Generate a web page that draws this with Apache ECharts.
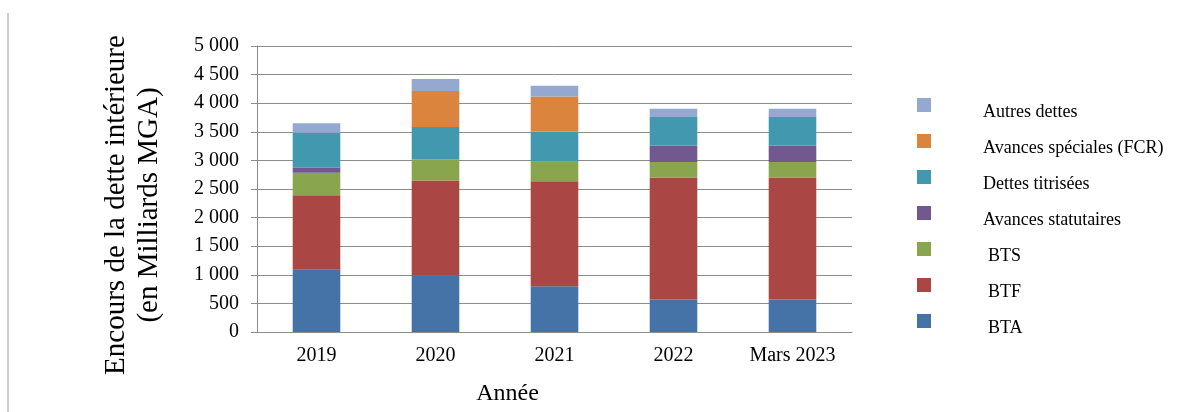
<!DOCTYPE html>
<html lang="fr">
<head>
<meta charset="UTF-8">
<title>Encours de la dette intérieure</title>
<script src="https://cdn.jsdelivr.net/npm/echarts@6/dist/echarts.min.js"></script>
<style>
  html, body { margin: 0; padding: 0; background: #fff; }
  #main { width: 1195px; height: 412px; }
</style>
</head>
<body>
<div id="main"></div>
<script>
// données (milliards MGA)
var annees = ['2019', '2020', '2021', '2022', 'Mars 2023'];
var bta = [1090, 990, 800, 570, 570];
var btf = [1300, 1660, 1835, 2130, 2130];
var bts = [395, 370, 340, 270, 270];
var avancesStat = [85, 0, 0, 290, 290];
var dettesTitr = [615, 565, 530, 500, 500];
var avancesFcr = [0, 630, 610, 0, 0];
var autres = [165, 210, 190, 145, 145];

var police = 'Liberation Serif';
var gris = '#8c8c8c';

var myChart = echarts.init(document.getElementById('main'));

function serie(nom, valeurs, couleur) {
    return {
        name: nom,
        type: 'bar',
        stack: 'dette',
        barWidth: '40%',
        data: valeurs,
        itemStyle: { color: couleur }
    };
}

var option = {
    animation: false,
    textStyle: { fontFamily: police },
    grid: { left: 257, top: 46, width: 595, height: 286 },
    legend: {
        orient: 'vertical',
        left: 912,
        top: 93,
        icon: 'rect',
        itemWidth: 14,
        itemHeight: 14,
        itemGap: 13,
        data: ['Autres dettes', 'Avances spéciales (FCR)', 'Dettes titrisées',
               'Avances statutaires', 'BTS', 'BTF', 'BTA'],
        formatter: function (n) {
            var decale = (n.length <= 3) ? 'b' : 'a';
            return '{' + decale + '|' + n + '}';
        },
        textStyle: {
            fontFamily: police,
            fontSize: 18,
            color: '#000',
            rich: {
                a: { fontFamily: police, fontSize: 18, color: '#000', padding: [14, 0, 0, 47] },
                b: { fontFamily: police, fontSize: 18, color: '#000', padding: [14, 0, 0, 52] }
            }
        }
    },
    xAxis: {
        type: 'category',
        data: annees,
        name: 'Année',
        nameLocation: 'middle',
        nameGap: 50,
        nameTextStyle: {
            fontFamily: police, fontSize: 24, color: '#000',
            padding: [0, 94, 0, 0]
        },
        axisLine: { lineStyle: { color: gris } },
        axisTick: { length: 6, lineStyle: { color: gris } },
        axisLabel: { fontFamily: police, fontSize: 20, color: '#000', margin: 14 }
    },
    yAxis: {
        type: 'value',
        min: 0,
        max: 5000,
        interval: 500,
        name: 'Encours de la dette intérieure\n(en Milliards MGA)',
        nameLocation: 'middle',
        nameRotate: 90,
        nameGap: 91,
        nameTextStyle: {
            fontFamily: police, fontSize: 29, color: '#000', lineHeight: 33,
            padding: [0, 32, 0, 0]
        },
        axisLine: { show: true, lineStyle: { color: gris } },
        axisTick: { show: true, length: 6, lineStyle: { color: gris } },
        splitLine: { lineStyle: { color: gris } },
        axisLabel: {
            fontFamily: police,
            fontSize: 20,
            color: '#000',
            margin: 18,
            formatter: function (v) {
                return String(v).replace(/\B(?=(\d{3})+(?!\d))/g, ' ');
            }
        }
    },
    graphic: [{
        type: 'line',
        shape: { x1: 8, y1: 13, x2: 8, y2: 412 },
        style: { stroke: '#a0a0a0', lineWidth: 1 }
    }],
    series: [
        serie('BTA', bta, '#4572A7'),
        serie('BTF', btf, '#AA4643'),
        serie('BTS', bts, '#89A54E'),
        serie('Avances statutaires', avancesStat, '#71588F'),
        serie('Dettes titrisées', dettesTitr, '#4198AF'),
        serie('Avances spéciales (FCR)', avancesFcr, '#DB843D'),
        serie('Autres dettes', autres, '#93A9CF')
    ]
};

myChart.setOption(option);
</script>
</body>
</html>
